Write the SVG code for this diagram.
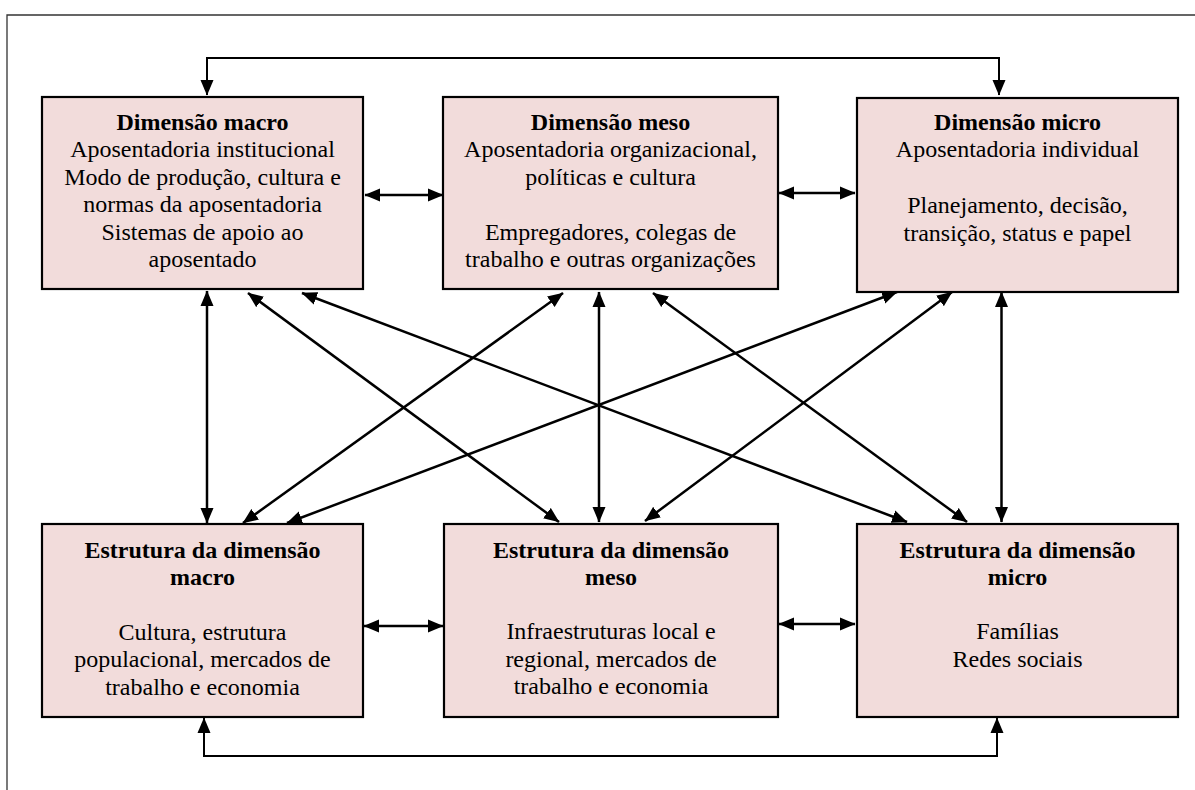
<svg xmlns="http://www.w3.org/2000/svg" width="1195" height="790" viewBox="0 0 1195 790">
<style>
.box{fill:#F2DCDB;stroke:#000;stroke-width:2.2}
.t{font-family:"Liberation Serif","Times New Roman",Tinos,"Nimbus Roman","DejaVu Serif",serif;font-size:24px;font-weight:400;fill:#000;text-anchor:middle}
.b{font-weight:700}
.a{fill:none;stroke:#000;stroke-width:2.5;marker-start:url(#ah);marker-end:url(#ah)}
.c{fill:none;stroke:#000;stroke-width:2;marker-start:url(#ah);marker-end:url(#ah)}
</style>
<defs>
<marker id="ah" markerUnits="userSpaceOnUse" markerWidth="16" markerHeight="14" refX="15" refY="7" orient="auto-start-reverse" viewBox="0 0 16 14">
<path d="M0,0.5 L15.5,7 L0,13.5 z" fill="#000"/>
</marker>
</defs>
<rect width="1195" height="790" fill="#fff"/>
<g id="frame" stroke="#333" stroke-width="1.3" fill="none">
<path d="M7,790 L7,15 L1195,15"/>
</g>
<g id="connectors">
<path class="c" d="M207,95 L207,58 L999,58 L999,95"/>
<path class="c" d="M204,718 L204,756 L997,756 L997,718"/>
<line class="a" x1="365" y1="195" x2="443" y2="195"/>
<line class="a" x1="779" y1="193" x2="855" y2="193"/>
<line class="a" x1="364" y1="626" x2="443" y2="626"/>
<line class="a" x1="779" y1="624" x2="855" y2="624"/>
<line class="a" x1="207" y1="291" x2="207" y2="523"/>
<line class="a" x1="599" y1="292" x2="599" y2="522"/>
<line class="a" x1="1001.5" y1="292" x2="1001.5" y2="522"/>
<line class="a" x1="248" y1="293" x2="559" y2="522"/>
<line class="a" x1="302" y1="293" x2="907" y2="522"/>
<line class="a" x1="563" y1="293" x2="243" y2="523"/>
<line class="a" x1="653" y1="293" x2="967" y2="522"/>
<line class="a" x1="897" y1="292" x2="287" y2="523"/>
<line class="a" x1="952" y1="292" x2="645" y2="521"/>
</g>
<g id="macro">
<rect class="box" x="42" y="97" width="321" height="192"/>
<text class="t b" x="202.5" y="130">Dimensão macro</text>
<text class="t" x="202.5" y="157">Aposentadoria institucional</text>
<text class="t" x="202.5" y="184.5">Modo de produção, cultura e</text>
<text class="t" x="202.5" y="212">normas da aposentadoria</text>
<text class="t" x="202.5" y="239.5">Sistemas de apoio ao</text>
<text class="t" x="202.5" y="267">aposentado</text>
</g>
<g id="meso">
<rect class="box" x="443" y="97" width="335" height="192"/>
<text class="t b" x="610.5" y="130">Dimensão meso</text>
<text class="t" x="610.5" y="157">Aposentadoria organizacional,</text>
<text class="t" x="610.5" y="184.5">políticas e cultura</text>
<text class="t" x="610.5" y="239.5">Empregadores, colegas de</text>
<text class="t" x="610.5" y="267">trabalho e outras organizações</text>
</g>
<g id="micro">
<rect class="box" x="857" y="98" width="321" height="194"/>
<text class="t b" x="1017.5" y="130">Dimensão micro</text>
<text class="t" x="1017.5" y="157">Aposentadoria individual</text>
<text class="t" x="1017.5" y="213">Planejamento, decisão,</text>
<text class="t" x="1017.5" y="240.5">transição, status e papel</text>
</g>
<g id="estrutura-macro">
<rect class="box" x="42" y="524" width="321" height="193"/>
<text class="t b" x="202.5" y="557.5">Estrutura da dimensão</text>
<text class="t b" x="202.5" y="585">macro</text>
<text class="t" x="202.5" y="639.5">Cultura, estrutura</text>
<text class="t" x="202.5" y="667">populacional, mercados de</text>
<text class="t" x="202.5" y="694.5">trabalho e economia</text>
</g>
<g id="estrutura-meso">
<rect class="box" x="444" y="524" width="334" height="193"/>
<text class="t b" x="611" y="557.5">Estrutura da dimensão</text>
<text class="t b" x="611" y="585">meso</text>
<text class="t" x="611" y="639">Infraestruturas local e</text>
<text class="t" x="611" y="666.5">regional, mercados de</text>
<text class="t" x="611" y="694">trabalho e economia</text>
</g>
<g id="estrutura-micro">
<rect class="box" x="857" y="524" width="321" height="193"/>
<text class="t b" x="1017.5" y="557.5">Estrutura da dimensão</text>
<text class="t b" x="1017.5" y="585">micro</text>
<text class="t" x="1017.5" y="639">Famílias</text>
<text class="t" x="1017.5" y="666.5">Redes sociais</text>
</g>
</svg>
